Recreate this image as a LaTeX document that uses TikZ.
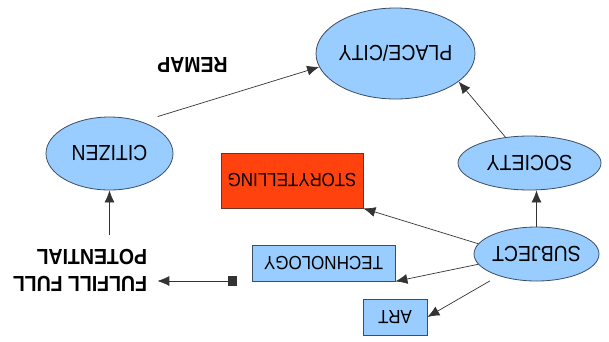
\documentclass[tikz,border=0pt]{standalone}
\usepackage{fontspec}
\setmainfont{Liberation Sans}
\usepackage{graphicx}
\usetikzlibrary{shapes.geometric,arrows.meta}
\definecolor{blob}{HTML}{99CCFF}
\definecolor{blobline}{HTML}{3C4E63}
\definecolor{storyfill}{HTML}{FF420E}
\definecolor{storyline}{HTML}{6E3323}
\newcommand{\flip}[1]{\rotatebox[origin=c]{180}{\scalebox{1}[1.12]{#1}}}
\begin{document}
\begin{tikzpicture}[x=1pt,y=-1pt,
  ell/.style={ellipse, draw=blobline, fill=blob, line width=0.8pt, inner sep=0pt,
    font=\fontsize{19.5}{23}\selectfont},
  boxnode/.style={rectangle, draw=blobline, fill=blob, line width=0.8pt, inner sep=0pt,
    font=\fontsize{17}{20}\selectfont},
  lbl/.style={inner sep=0pt, font=\fontsize{19.5}{24}\selectfont\bfseries},
  arr/.style={draw=black!80, line width=0.7pt, -{Latex[length=12pt,width=10pt]}}]
\useasboundingbox (0,0) rectangle (609,341);
\node[ell, minimum width=159pt, minimum height=91pt] (place) at (395.5,53.5) {\makebox[0pt]{\flip{PLACE/CITY}}};
\node[ell, minimum width=127pt, minimum height=73pt] (citizen) at (109.5,153.5) {\makebox[0pt]{\flip{CITIZEN}}};
\node[ell, minimum width=143pt, minimum height=54pt] (society) at (529.5,163) {\makebox[0pt]{\flip{SOCIETY}}};
\node[ell, minimum width=125pt, minimum height=54pt] (subject) at (536.5,254) {\makebox[0pt]{\flip{SUBJECT}}};
\node[boxnode, draw=storyline, fill=storyfill, minimum width=142pt, minimum height=55pt] (story) at (292,180.5) {\flip{STORYTELLING}};
\node[boxnode, minimum width=143pt, minimum height=36pt] (tech) at (323.5,263) {\flip{TECHNOLOGY}};
\node[boxnode, minimum width=64pt, minimum height=36pt] (art) at (395,317) {\flip{ART}};
\node[lbl] (remap) at (192.5,65) {\flip{REMAP}};
\node[lbl] (fulfill) at (80,268.5) {\flip{\begin{tabular}{@{}l@{}}FULFILL FULL\\POTENTIAL\end{tabular}}};
\coordinate (sqpt) at (237,281);

\draw[arr, shorten <=17pt] (citizen.45) -- (place.190);
\draw[arr] (society.133) -- (place.-24);
\draw[arr] (subject.north) -- (subject.north |- society.south);
\draw[arr] (subject.170) -- (story.south east);
\draw[arr] (subject.190) -- (tech.south east);
\draw[arr, shorten <=10pt] (subject.210) -- (art.east);
\draw[arr, shorten <=6pt] (citizen.south |- fulfill.north) -- (citizen.south);
\draw[draw=black!80, line width=0.7pt, {Square[length=9pt,width=10pt]}-{Latex[length=12pt,width=10pt]}, shorten >=10pt] (sqpt) -- (fulfill.east |- sqpt);
\end{tikzpicture}
\end{document}
